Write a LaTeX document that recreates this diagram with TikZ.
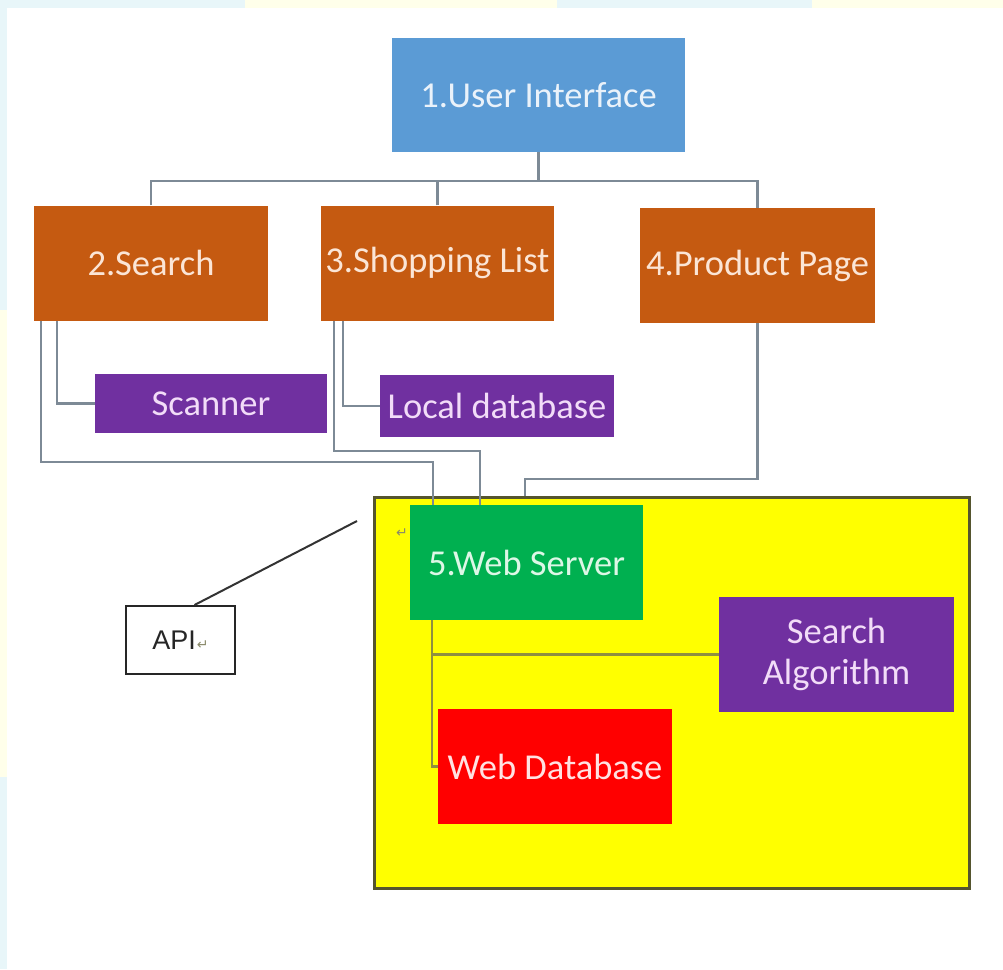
\documentclass[tikz,border=0pt]{standalone}
\usepackage{fontspec}
\newfontfamily\carl{Carlito}
\newfontfamily\lsans{Liberation Sans}
\newfontfamily\dvs{DejaVu Sans}
\definecolor{bgcyan}{HTML}{E8F6F9}
\definecolor{bgyel}{HTML}{FFFFEA}
\definecolor{uiblue}{HTML}{5B9BD5}
\definecolor{orng}{HTML}{C55A11}
\definecolor{purp}{HTML}{7030A0}
\definecolor{grn}{HTML}{00B050}
\definecolor{rd}{HTML}{FF0000}
\definecolor{yel}{HTML}{FFFF00}
\definecolor{yelborder}{HTML}{55552E}
\definecolor{conncol}{HTML}{7D8A96}
\definecolor{conninner}{HTML}{8F8F40}
\definecolor{txtblue}{HTML}{EAF2FA}
\definecolor{txtorng}{HTML}{FBE5D6}
\definecolor{txtpurp}{HTML}{F2DCF8}
\definecolor{txtgrn}{HTML}{DDF7E6}
\definecolor{txtred}{HTML}{FFE2E2}
\definecolor{markgray}{HTML}{8A8A6A}
\tikzset{
  boxbase/.style={rectangle, inner sep=0pt, draw=none, font=\carl\fontsize{36.5}{41}\selectfont, align=center},
  bigbox/.style={boxbase, minimum width=234pt, minimum height=115pt},
  uibox/.style={boxbase, fill=uiblue, text=txtblue, minimum width=293pt, minimum height=114pt},
  orbox/.style={bigbox, fill=orng, text=txtorng},
  pubox/.style={boxbase, fill=purp, text=txtpurp, minimum width=233pt},
  conn/.style={draw=conncol, line width=2.5pt},
  conn2/.style={draw=conninner, line width=2.5pt},
  retmark/.style={text=markgray, font=\dvs\fontsize{14}{14}\selectfont, inner sep=0pt}
}
\begin{document}
\begin{tikzpicture}[x=1pt,y=-1pt]
\useasboundingbox (0,0) rectangle (1003,969);
% background tints
\fill[white] (0,0) rectangle (1003,969);
\fill[bgcyan] (0,0) rectangle (245,8);
\fill[bgyel] (245,0) rectangle (557,8);
\fill[bgcyan] (557,0) rectangle (812,8);
\fill[bgyel] (812,0) rectangle (1003,8);
\fill[bgcyan] (0,0) rectangle (7,310);
\fill[bgyel] (0,310) rectangle (7,777);
\fill[bgcyan] (0,777) rectangle (7,969);

% yellow container
\node[rectangle, fill=yel, draw=yelborder, line width=3pt, minimum width=595pt, minimum height=391pt, inner sep=0pt] (yelbox) at (671.5,692.5) {};

% nodes
\node[uibox] (ui) at (538.5,95) {1.User Interface};
\node[orbox] (search) at (151,263) {2.Search};
\node[orbox, minimum width=233pt] (shop) at (437.5,263) {3.Shopping List};
\node[orbox, minimum width=235pt] (prod) at (757.5,265.5) {4.Product Page};
\node[pubox, minimum width=232pt, minimum height=59pt] (scanner) at (211,403.5) {Scanner};
\node[pubox, minimum width=234pt, minimum height=62pt] (localdb) at (497,406) {Local database};
\node[bigbox, minimum width=233pt, fill=grn, text=txtgrn] (web) at (526.5,562.5) {5.Web Server};
\node[bigbox, minimum width=235pt, fill=purp, text=txtpurp] (alg) at (836.5,654.5) {Search\\Algorithm};
\node[bigbox, fill=rd, text=txtred] (webdb) at (555,766.5) {Web Database};
\node[rectangle, fill=white, draw=black!85, line width=2pt, minimum width=109pt, minimum height=68pt, inner sep=0pt,
      font=\lsans\fontsize{27}{30}\selectfont, text=black!85] (api) at (180.5,640)
      {API\hspace{1pt}{\color{markgray}\dvs\fontsize{14}{14}\selectfont ↵}};
\node[retmark] (mark) at (402,533) {↵};

% coordinates for bends
\coordinate (bus) at (539,181);
\coordinate (sa) at (41,462);
\coordinate (sb) at (433,462);
\coordinate (sc) at (480,451);
\coordinate (pa) at (525,479);
\coordinate (wv) at ([xshift=22pt]web.south west);
\coordinate (apiend) at (357,521);

% connectors from user interface
\draw[conn] (ui.south) -- (ui.south |- bus);
\draw[conn] (search.north) |- (bus) -| (prod.north);
\draw[conn] (shop.north) -- (shop.north |- bus);

% search connectors
\draw[conn] ([xshift=7pt]search.south west) |- (sb) -- (sb |- web.north);
\draw[conn] ([xshift=23pt]search.south west) |- (scanner.west);

% shopping list connectors
\draw[conn] ([xshift=13pt]shop.south west) |- (sc) -- (sc |- web.north);
\draw[conn] ([xshift=22pt]shop.south west) |- (localdb.west);

% product page connector
\draw[conn] (prod.south) |- (pa) -- (pa |- yelbox.north);

% inside web server block
\draw[conn2] (wv) |- (webdb.west);
\draw[conn2] (wv |- alg.west) -- (alg.west);

% API line
\draw[draw=black!80, line width=2pt] ([xshift=14pt]api.north) -- (apiend);
\end{tikzpicture}
\end{document}
